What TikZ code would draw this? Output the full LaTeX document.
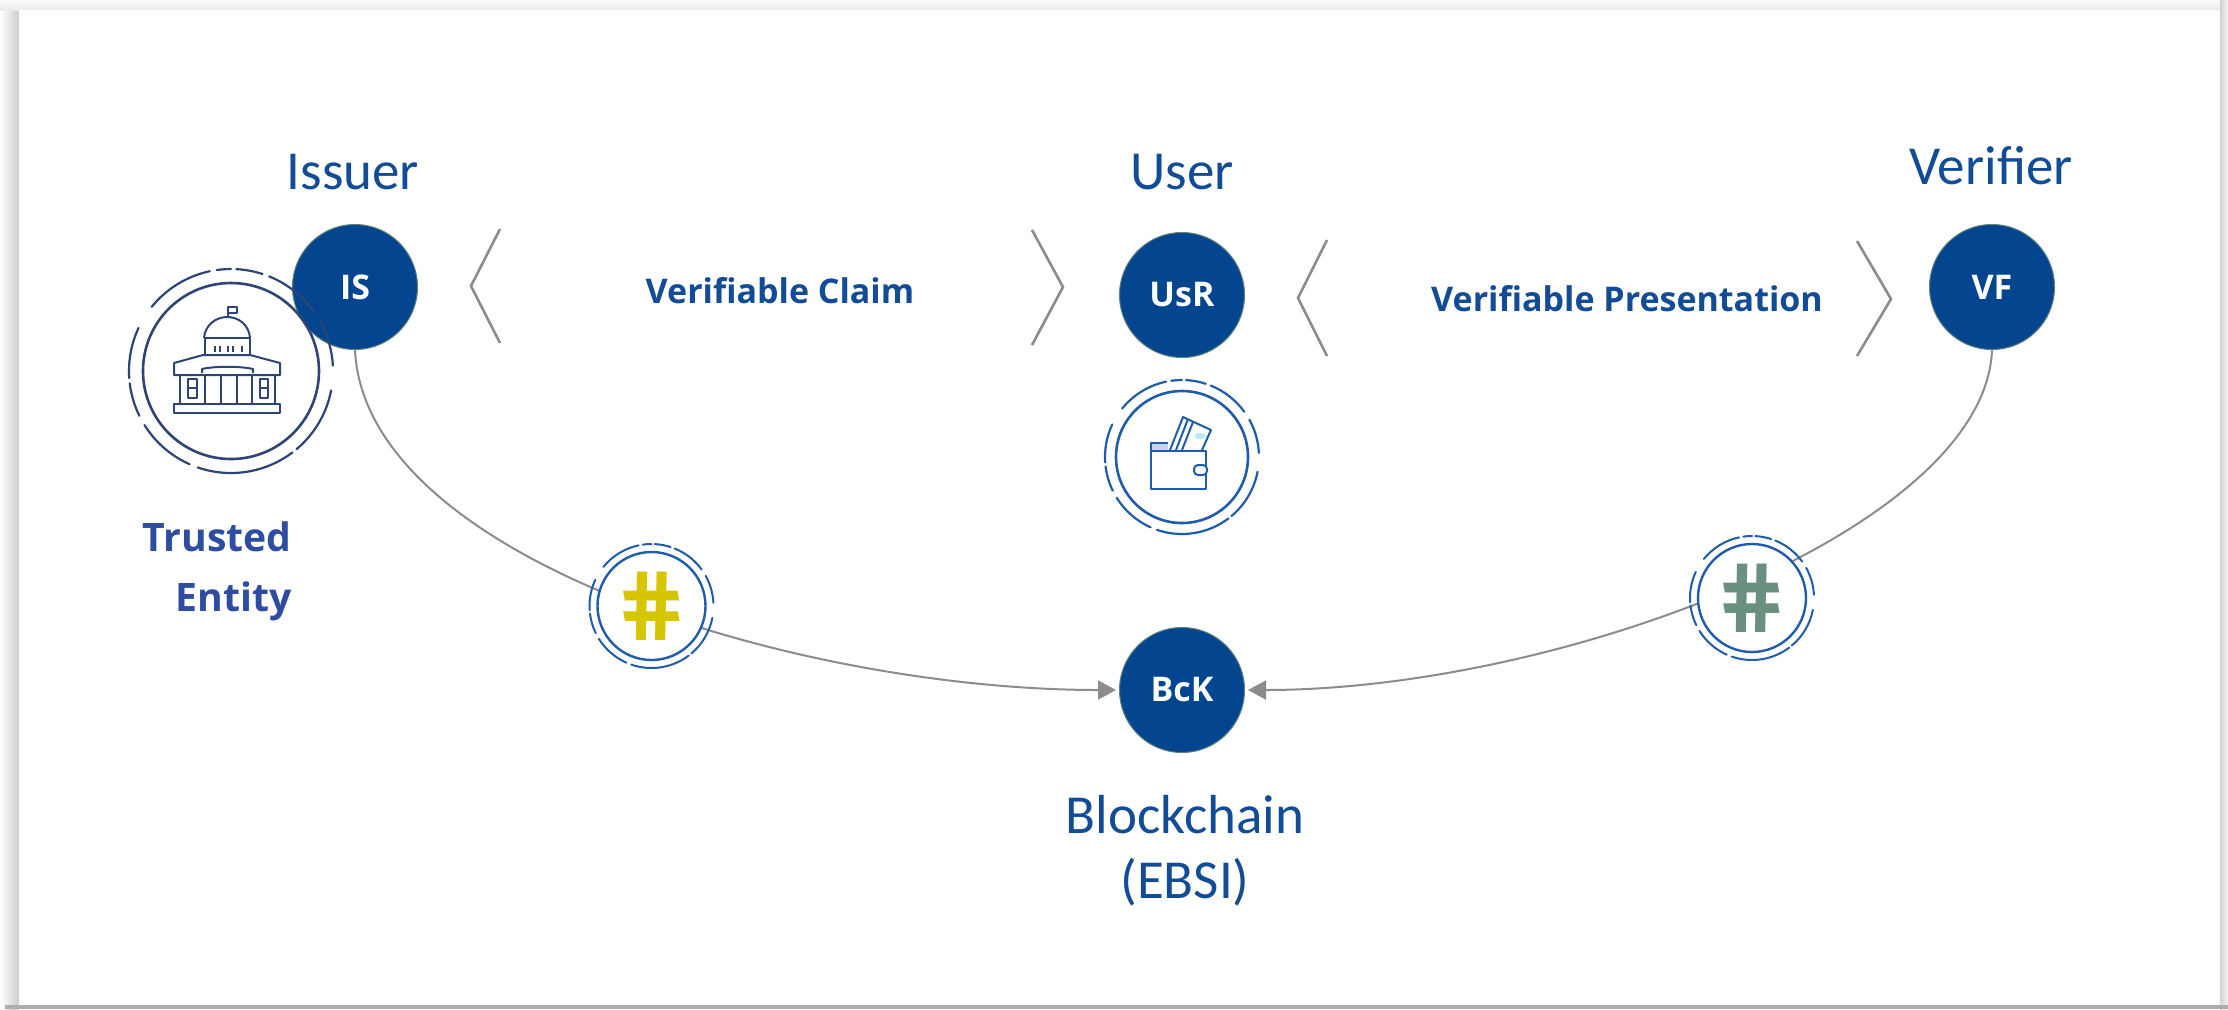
\documentclass[tikz,border=0pt]{standalone}
\usepackage{fontspec}
\usepackage{graphicx}
\setmainfont{Open Sans}
\newfontfamily\labelfont{Carlito}
\usetikzlibrary{arrows.meta}
\definecolor{nodeblue}{HTML}{03468F}
\definecolor{nodeedge}{HTML}{5F8078}
\definecolor{titleblue}{HTML}{124C97}
\definecolor{trustblue}{HTML}{2F4DA0}
\definecolor{navyline}{HTML}{2E4474}
\definecolor{ringblue}{HTML}{1F5CAB}
\definecolor{linegrey}{HTML}{8C8C8C}
\definecolor{hashyellow}{HTML}{D6C600}
\definecolor{hashgreen}{HTML}{6A9080}
\tikzset{
  actor/.style={circle,fill=nodeblue,draw=nodeedge,line width=.5pt,minimum size=62.5pt,inner sep=0pt,text=white,font=\bfseries\fontsize{17}{20}\selectfont},
  title/.style={text=titleblue,font=\labelfont\fontsize{27.5}{32.5}\selectfont,align=center,inner sep=0pt},
  claim/.style={text=titleblue,font=\bfseries\fontsize{17}{20}\selectfont,inner sep=0pt},
  flow/.style={draw=linegrey,line width=1pt},
  flowtip/.style={-{Triangle[length=9pt,width=9.5pt]},shorten >=1.5pt},
  chevron/.style={draw=linegrey,line width=1.3pt},
  ringinner/.style={circle,draw,fill=none,inner sep=0pt},
  hashdisc/.style={circle,draw=ringblue,fill=white,line width=1.2pt,inner sep=0pt,minimum size=54pt},
  hashmark/.style={inner sep=0pt,xslant=-.17,transform shape,font=\bfseries\fontsize{48}{48}\selectfont},
  icon/.style={draw=navyline,line width=1pt,line join=round},
  walleticon/.style={draw=ringblue,line width=1pt,line join=round}
}
\newcommand{\dashring}[4]{%
  \foreach \a/\b in {87/72,68/36,29/3,-11/-50,-53/-109,-114/-148,-154/-173,184/155,141/102,98/90}
    \draw[#4,line cap=round] ([shift={(#1,#2)}]\a:#3pt) arc[start angle=\a,end angle=\b,radius=#3pt];
}
\begin{document}
\begin{tikzpicture}[x=.5pt,y=-.5pt]
\useasboundingbox (0,0) rectangle (2228,1009);
% page shadow
\fill[white] (0,0) rectangle (2228,1009);
\shade[left color=white,right color=black!20,draw=none] (0,0) rectangle (19,1009);
\shade[top color=black!2,bottom color=black!8,draw=none] (0,0) rectangle (2228,10);
\shade[left color=black!18,right color=black!3,draw=none] (2220,0) rectangle (2228,1009);
\fill[black!32] (5,1005) rectangle (2228,1009);
\fill[white] (19,10) rectangle (2220,1005);

% actors
\node[actor] (IS) at (355,287) {IS};
\node[actor] (UsR) at (1182,295) {UsR};
\node[actor] (VF) at (1992,287) {VF};
\node[actor] (BcK) at (1182,690) {BcK};

% connectors, under the hash marks
\draw[flow,flowtip] (IS.south) .. controls (365,560) and (800,690) .. (BcK.west);
\draw[flow,flowtip] (VF.south) .. controls (1985,530) and (1560,690) .. (BcK.east);

% hash marks
\node[hashdisc] (hashA) at (651.5,606) {};
\node[hashmark,text=hashyellow] (hashAtext) at (hashA) {\#};
\dashring{651.5}{606}{31}{draw=ringblue,line width=1pt}
\node[hashdisc] (hashB) at (1752,598) {};
\node[hashmark,text=hashgreen] (hashBtext) at (hashB) {\#};
\dashring{1752}{598}{31}{draw=ringblue,line width=1pt}

% titles
\node[title] (tIssuer) at (353,172) {Issuer};
\node[title] (tUser) at (1182,172) {User};
\node[title] (tVerifier) at (1991,166) {Verifier};
\node[title] (tChain) at (1185,851) {Blockchain\\(EBSI)};
\node[claim] (tClaim) at (780,291) {Verifiable Claim};
\node[claim] (tPres) at (1627,299) {Verifiable Presentation};
\node[text=trustblue,font=\bfseries\fontsize{19.6}{30}\selectfont,align=right,inner sep=0pt,anchor=east] (tTrust) at (292,571) {Trusted\\Entity};

% chevrons
\draw[chevron] (500,229) -- (471,286) -- (500,343);
\draw[chevron] (1032,230) -- (1063,287) -- (1032,345);
\draw[chevron] (1327,240) -- (1298,298) -- (1327,356);
\draw[chevron] (1857,241) -- (1891,299) -- (1857,356);

% trusted entity ring and building
\node[ringinner,draw=navyline,line width=1.3pt,minimum size=88pt] (ringTrust) at (231,371) {};
\dashring{231}{371}{51}{draw=navyline,line width=1.1pt}
\draw[icon] (174,404) rectangle (280,413);
\draw[icon] (174,375) -- (174,363) -- (203,355) -- (250,355) -- (280,363) -- (280,375) -- cycle;
\foreach \x in {180,205,221,237,252,275} \draw[icon] (\x,375) -- (\x,404);
\draw[icon] (202,373) -- (202,369) .. controls (215,366) and (240,366) .. (253,369) -- (253,373);
\draw[icon] (188,379) rectangle (197,398) (188,388) -- (197,388);
\draw[icon] (260,379) rectangle (268,398) (260,388) -- (268,388);
\draw[icon] (205,355) -- (205,338) -- (250,338) -- (250,355);
\draw[icon] (204,338) .. controls (205,325) and (216,317) .. (227,317) .. controls (239,317) and (249,325) .. (250,338);
\draw[icon] (228,317) -- (228,307) -- (237,307) -- (237,313) -- (228,313);
\foreach \x in {215,220,228,233,242} \draw[icon] (\x,346) -- (\x,352);

% wallet ring and wallet
\node[ringinner,draw=ringblue,line width=1.3pt,minimum size=66pt] (ringWallet) at (1182,457) {};
\dashring{1182}{457}{38.5}{draw=ringblue,line width=1.1pt}
\fill[ringblue!25] (1152,444) rectangle (1168,450);
\draw[walleticon] (1170,450) -- (1183,417) -- (1211,430) -- (1202,450);
\draw[walleticon] (1176,450) -- (1188,419) (1182,450) -- (1193,422);
\fill[cyan!25] (1200,436) ellipse [x radius=6,y radius=3];
\draw[walleticon] (1151,451) rectangle (1206,489);
\draw[walleticon] (1151,451) -- (1151,443) -- (1168,443);
\draw[walleticon,fill=white,rounded corners=2pt] (1194,465) rectangle (1207,475);
\end{tikzpicture}
\end{document}
